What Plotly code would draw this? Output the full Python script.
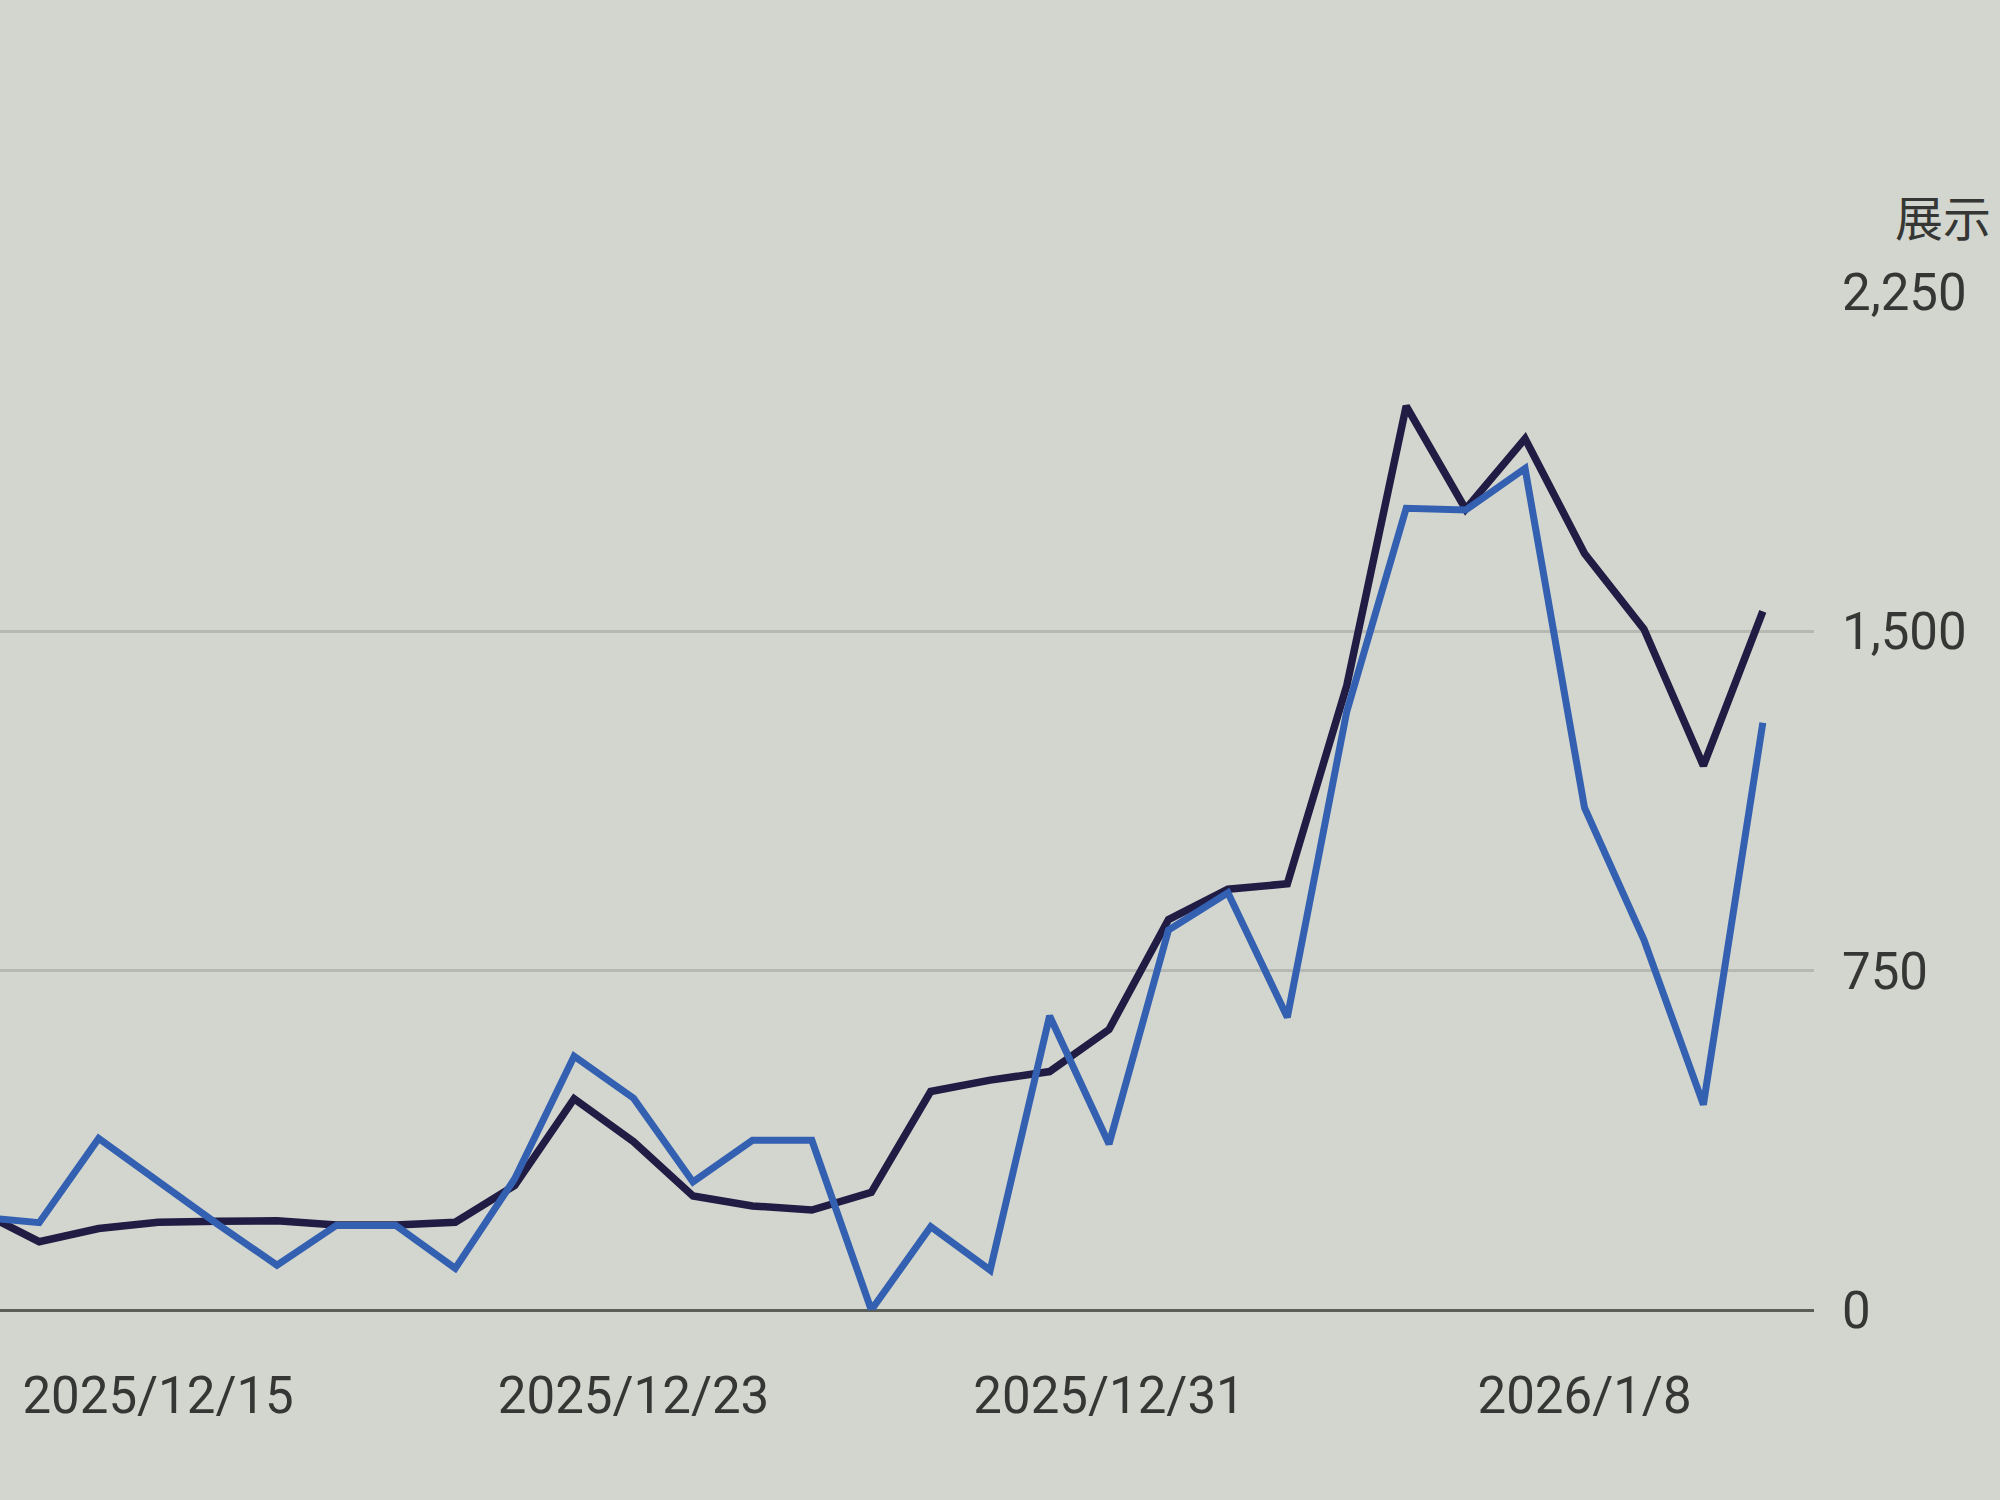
import plotly.graph_objects as go

dates = [
    "2025-12-12", "2025-12-13", "2025-12-14", "2025-12-15", "2025-12-16",
    "2025-12-17", "2025-12-18", "2025-12-19", "2025-12-20", "2025-12-21",
    "2025-12-22", "2025-12-23", "2025-12-24", "2025-12-25", "2025-12-26",
    "2025-12-27", "2025-12-28", "2025-12-29", "2025-12-30", "2025-12-31",
    "2026-01-01", "2026-01-02", "2026-01-03", "2026-01-04", "2026-01-05",
    "2026-01-06", "2026-01-07", "2026-01-08", "2026-01-09", "2026-01-10",
    "2026-01-11",
]

# dark line: 展示 (right axis)
impressions = [
    218, 151, 180, 194, 196, 197, 188, 188, 194, 275,
    467, 372, 252, 230, 221, 260, 483, 508, 527, 620,
    863, 930, 942, 1380, 1998, 1770, 1926, 1672, 1505, 1203,
    1544,
]

# blue line
clicks = [
    205, 193, 379, 284, 190, 99, 187, 187, 92, 290,
    561, 468, 283, 375, 375, 0, 184, 88, 650, 367,
    840, 922, 647, 1323, 1772, 1768, 1860, 1110, 818, 454,
    1298,
]

tick_dates = ["2025-12-15", "2025-12-23", "2025-12-31", "2026-01-08"]
tick_labels = ["2025/12/15", "2025/12/23", "2025/12/31", "2026/1/8"]
y_ticks = [0, 750, 1500, 2250]
y_labels = ["0", "750", "1,500", "2,250"]

BG = "#d3d6ce"
TEXT = "#363735"
FONT = "Roboto, 'Noto Sans CJK SC', sans-serif"

fig = go.Figure()

fig.add_trace(
    go.Scatter(
        x=dates,
        y=impressions,
        mode="lines",
        name="展示",
        line=dict(color="#201c44", width=7.5),
    )
)
fig.add_trace(
    go.Scatter(
        x=dates,
        y=clicks,
        mode="lines",
        name="点击",
        line=dict(color="#3460b2", width=7),
    )
)

fig.update_layout(
    width=2000,
    height=1500,
    margin=dict(l=0, r=186, t=292, b=190),
    paper_bgcolor=BG,
    plot_bgcolor=BG,
    showlegend=False,
    font=dict(family=FONT, color=TEXT, size=50),
    xaxis=dict(
        type="date",
        range=["2025-12-12 08:10", "2026-01-11 20:40"],
        tickvals=tick_dates,
        ticktext=tick_labels,
        showgrid=False,
        zeroline=False,
        showline=False,
        ticks="",
        ticklabelstandoff=51,
        tickfont=dict(size=51, color=TEXT),
    ),
    yaxis=dict(
        side="right",
        range=[0, 2250],
        tickvals=y_ticks,
        ticktext=y_labels,
        showgrid=True,
        gridcolor="#b6b8b2",
        gridwidth=2.5,
        zeroline=True,
        zerolinecolor="#5a5d58",
        zerolinewidth=3,
        ticks="",
        ticklabelstandoff=27,
        tickfont=dict(size=51, color=TEXT),
    ),
)

fig.add_annotation(
    text="展示",
    xref="paper",
    yref="paper",
    x=1.0987,
    y=1.0717,
    xanchor="right",
    yanchor="middle",
    showarrow=False,
    font=dict(size=48, color=TEXT, family=FONT),
)

fig.write_html(
    "out.html",
    config={"displayModeBar": False},
    post_script="document.body.style.margin='0';document.body.style.background='" + BG + "';",
)
